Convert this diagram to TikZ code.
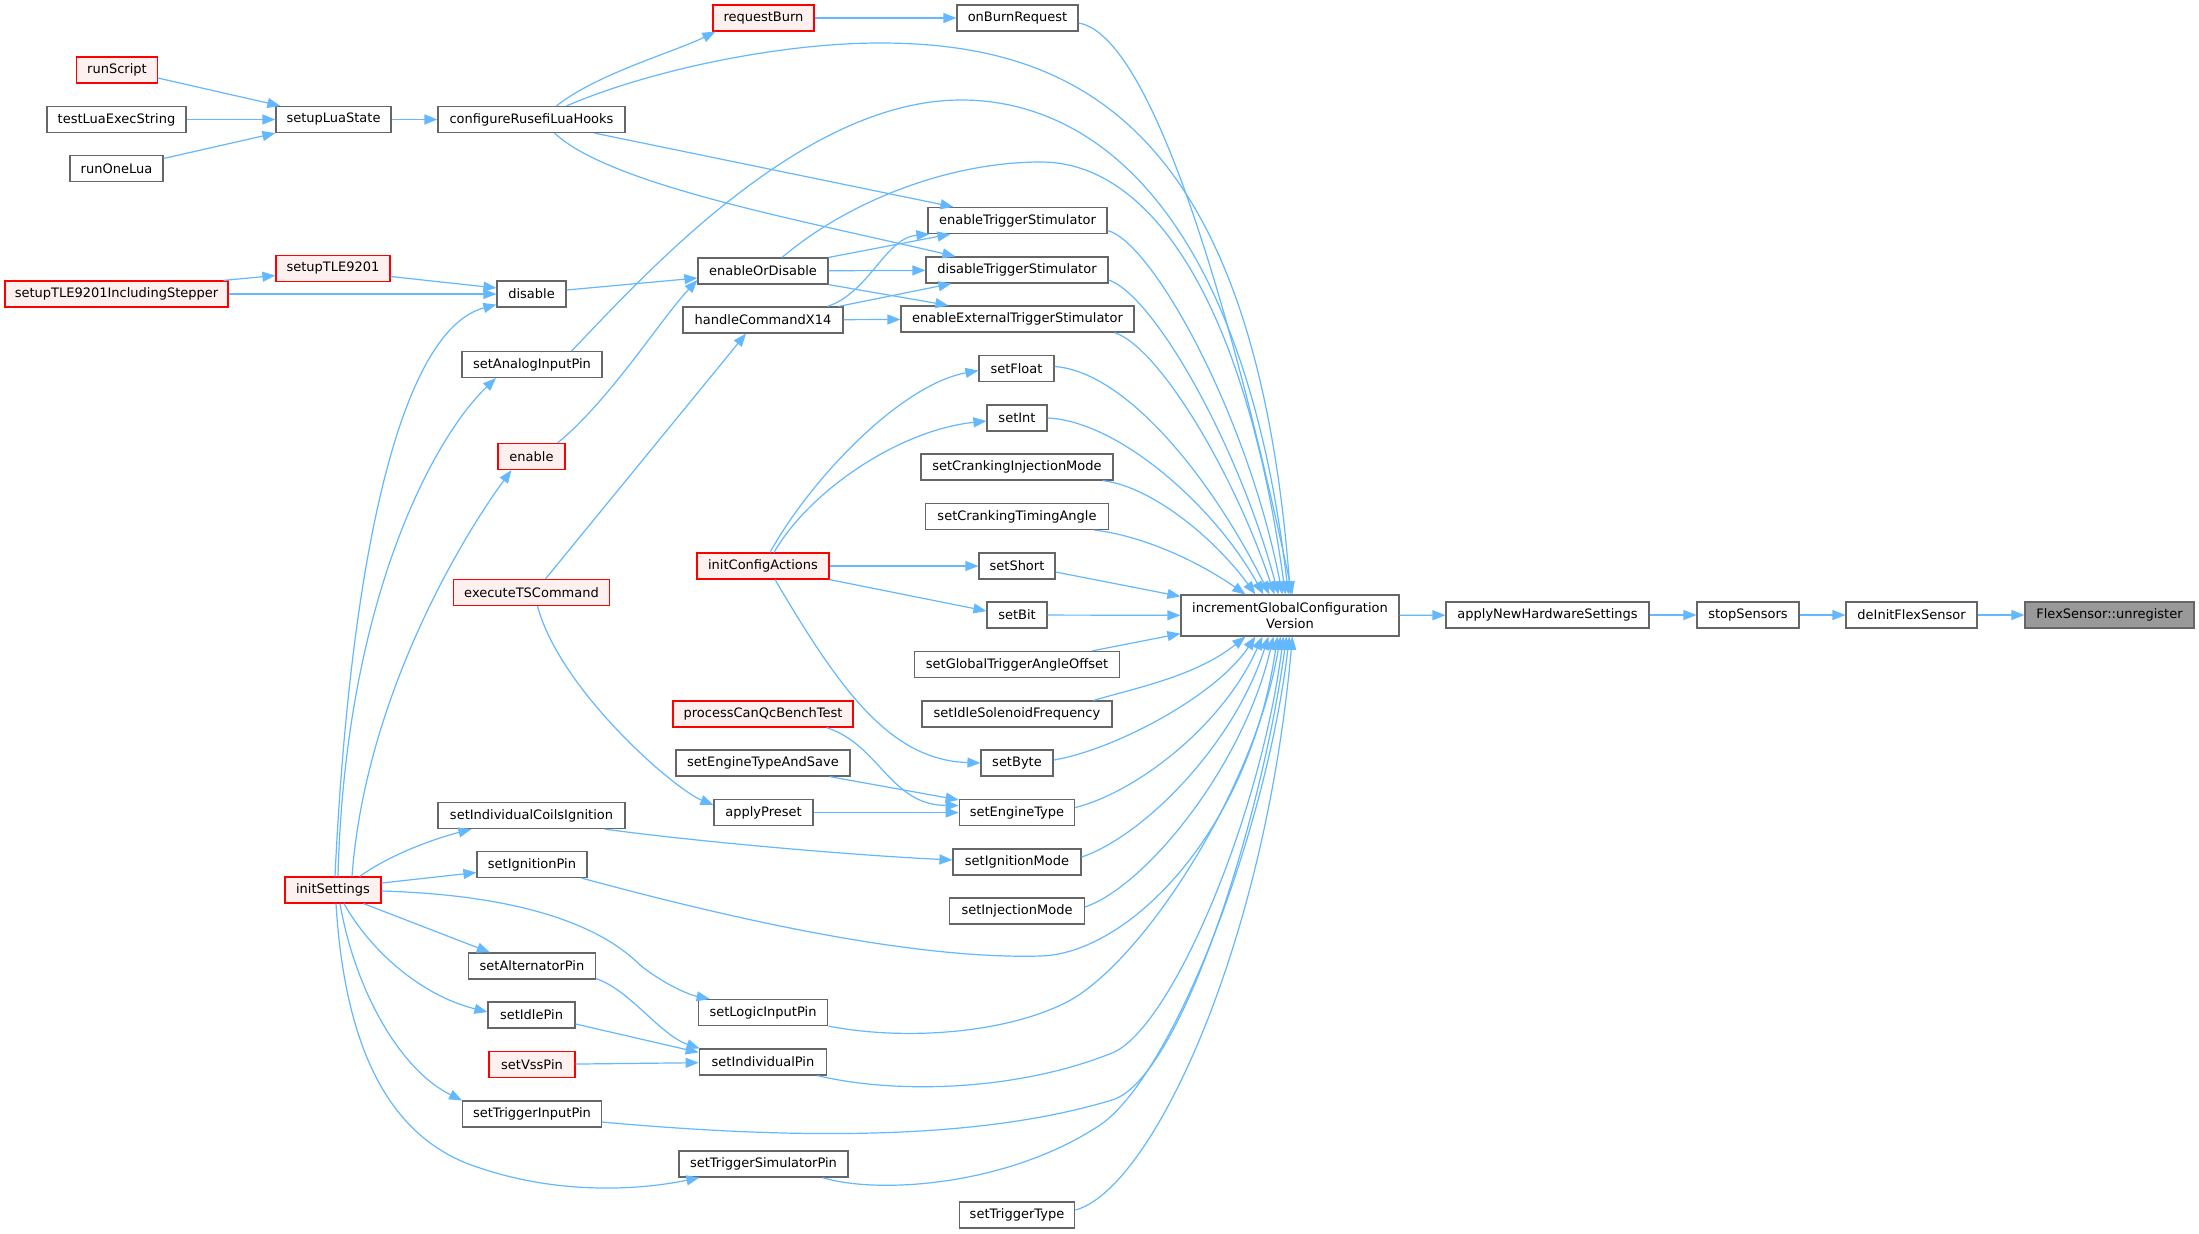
\documentclass[tikz,border=0pt]{standalone}
\usepackage{fontspec}
\setmainfont{DejaVu Sans}
\usetikzlibrary{arrows.meta,calc}
\definecolor{edgeblue}{HTML}{63B8FF}
\definecolor{bord}{HTML}{666666}
\definecolor{redfill}{HTML}{FFF0F0}
\definecolor{rootfill}{HTML}{999999}
\tikzset{
  nd/.style={draw=bord, fill=white, line width=0.6pt, minimum height=13pt, inner sep=0pt,
    font=\fontsize{6.5pt}{7.8pt}\selectfont, anchor=center},
  rd/.style={nd, draw=red, fill=redfill},
  rt/.style={nd, fill=rootfill},
  bw/.style={minimum width=#1*0.5pt},
  edg/.style={draw=edgeblue, line width=0.6pt, -{Triangle[length=6.5pt,width=5pt]}}
}
\begin{document}
\begin{tikzpicture}[x=0.5pt,y=-0.5pt]
\fill[white] (0,0) rectangle (2199,1233);
\useasboundingbox (0,0) rectangle (2199,1233);
% nodes
\node[rt,bw=169] (unreg) at (2109.5,615) {FlexSensor::unregister};
\node[nd,bw=131] (deinit) at (1911.5,615) {deInitFlexSensor};
\node[nd,bw=102] (stop) at (1748,615) {stopSensors};
\node[nd,bw=203] (apply) at (1547.5,615) {applyNewHardwareSettings};
\node[nd,bw=218,minimum height=20.5pt,align=center] (inc) at (1290,615.5) {incrementGlobalConfiguration\\Version};
\node[nd,bw=121] (onburn) at (1017.5,18) {onBurnRequest};
\node[rd,bw=101] (reqburn) at (763.5,18) {requestBurn};
\node[rd,bw=80.5] (runscript) at (117,70) {runScript};
\node[nd,bw=139] (testlua) at (116.5,119.5) {testLuaExecString};
\node[nd,bw=93] (runone) at (116.5,168.5) {runOneLua};
\node[nd,bw=115] (setuplua) at (333.5,119.5) {setupLuaState};
\node[nd,bw=187] (configure) at (531.5,119.5) {configureRusefiLuaHooks};
\node[rd,bw=223] (tlestep) at (116.5,294) {setupTLE9201IncludingStepper};
\node[rd,bw=114] (tle) at (333,268.5) {setupTLE9201};
\node[nd,bw=69] (disable) at (531.5,294) {disable};
\node[nd,bw=140] (analog) at (532,364.5) {setAnalogInputPin};
\node[rd,bw=67] (enable) at (531.5,456.5) {enable};
\node[rd,bw=156] (exects) at (531.5,592.5) {executeTSCommand};
\node[rd,bw=96] (initset) at (333,890) {initSettings};
\node[nd,bw=187] (coils) at (531.5,815.5) {setIndividualCoilsIgnition};
\node[nd,bw=110] (ignpin) at (532,864.5) {setIgnitionPin};
\node[nd,bw=127] (altpin) at (532,966) {setAlternatorPin};
\node[nd,bw=87] (idlepin) at (531.5,1015) {setIdlePin};
\node[rd,bw=86] (vsspin) at (532,1064.5) {setVssPin};
\node[nd,bw=138.5] (trigin) at (532,1114) {setTriggerInputPin};
\node[nd,bw=130] (enordis) at (763,271) {enableOrDisable};
\node[nd,bw=160] (hcx14) at (763,320) {handleCommandX14};
\node[rd,bw=132] (initcfg) at (763,566) {initConfigActions};
\node[rd,bw=180] (canqc) at (763,714) {processCanQcBenchTest};
\node[nd,bw=174] (engsave) at (763,763) {setEngineTypeAndSave};
\node[nd,bw=99] (preset) at (763.5,812.5) {applyPreset};
\node[nd,bw=129.5] (logicin) at (763,1012.5) {setLogicInputPin};
\node[nd,bw=127.5] (indpin) at (763,1062) {setIndividualPin};
\node[nd,bw=169] (trigsim) at (763.5,1164) {setTriggerSimulatorPin};
\node[nd,bw=179] (entrig) at (1017.5,220.5) {enableTriggerStimulator};
\node[nd,bw=182] (distrig) at (1017,270) {disableTriggerStimulator};
\node[nd,bw=233] (extrig) at (1017.5,319) {enableExternalTriggerStimulator};
\node[nd,bw=75] (setfloat) at (1016.5,368.5) {setFloat};
\node[nd,bw=60] (setint) at (1017,418) {setInt};
\node[nd,bw=192] (crinj) at (1017,467) {setCrankingInjectionMode};
\node[nd,bw=183.5] (crtim) at (1017,516.5) {setCrankingTimingAngle};
\node[nd,bw=76] (setshort) at (1017,566) {setShort};
\node[nd,bw=60] (setbit) at (1017,615) {setBit};
\node[nd,bw=204.5] (gtao) at (1017,664.5) {setGlobalTriggerAngleOffset};
\node[nd,bw=190] (idlesol) at (1017,714) {setIdleSolenoidFrequency};
\node[nd,bw=72] (setbyte) at (1017,763) {setByte};
\node[nd,bw=115.5] (engtype) at (1017,812.5) {setEngineType};
\node[nd,bw=128] (ignmode) at (1017,862) {setIgnitionMode};
\node[nd,bw=134.5] (injmode) at (1017,911) {setInjectionMode};
\node[nd,bw=115.5] (trigtype) at (1017,1215) {setTriggerType};
% chain
\draw[edg] (deinit) -- (unreg);
\draw[edg] (stop) -- (deinit);
\draw[edg] (apply) -- (stop);
\draw[edg] (inc) -- (apply);
% top area
\draw[edg] (reqburn) -- (onburn);
\draw[edg] ($(onburn.east)+(0,5)$) .. controls +(72,12) and +(-63,-295) .. ($(inc.north west)+(112,0)$);
\draw[edg] ($(configure.north)+(25,0)$) .. controls +(40,-32) and +(-40,20) .. ($(reqburn.south west)+(3,0)$);
\draw[edg] ($(configure.north)+(35,0)$) .. controls (650,70) and (780,43) .. (880,43) .. controls (1080,43) and (1255,130) .. ($(inc.north west)+(110,0)$);
\draw[edg] ($(configure.south)+(63,0)$) -- ($(entrig.north west)+(26,0)$);
\draw[edg] ($(configure.south)+(23,0)$) .. controls (610,185) and (800,220) .. ($(distrig.north west)+(30,0)$);
\draw[edg] (setuplua) -- (configure);
\draw[edg] ($(runscript.east)+(0,8)$) -- ($(setuplua.north west)+(5,0)$);
\draw[edg] (testlua) -- (setuplua);
\draw[edg] ($(runone.east)+(0,-10)$) -- (setuplua.south west);
\draw[edg] ($(tlestep.north east)+(-5,0)$) -- ($(tle.west)+(0,7)$);
\draw[edg] (tlestep) -- (disable);
\draw[edg] ($(tle.east)+(0,8)$) -- ($(disable.west)+(0,-6)$);
\draw[edg] ($(disable.east)+(0,-4)$) -- ($(enordis.west)+(0,7)$);
\draw[edg] ($(initset.north)+(2,0)$) .. controls (350,560) and (400,330) .. ($(disable.south west)+(0,-3)$);
\draw[edg] ($(enable.north east)+(-8,0)$) .. controls (610,400) and (660,320) .. ($(enordis.west)+(0,9)$);
\draw[edg] ($(initset.north)+(19,0)$) .. controls (365,700) and (460,540) .. ($(enable.south)+(-20,0)$);
\draw[edg] ($(initset.north)+(5,0)$) .. controls (345,600) and (434,437) .. ($(analog.south)+(-36,0)$);
\draw[edg] ($(analog.north east)+(-31,0)$) .. controls (640,280) and (800,100) .. (961,100) .. controls (1100,100) and (1245,220) .. ($(inc.north west)+(108,0)$);
\draw[edg] (enordis.north east) -- ($(entrig.south west)+(23,0)$);
\draw[edg] (enordis) -- (distrig);
\draw[edg] (enordis.south east) -- ($(extrig.north west)+(48,0)$);
\draw[edg] ($(enordis.north)+(19,0)$) .. controls (850,200) and (950,162) .. (1041,162) .. controls (1150,162) and (1245,300) .. ($(inc.north west)+(105,0)$);
\draw[edg] ($(hcx14.north east)+(-16,0)$) .. controls (870,292) and (885,238) .. ($(entrig.south west)+(2,0)$);
\draw[edg] ($(hcx14.north east)+(-5,0)$) -- ($(distrig.south west)+(26,0)$);
\draw[edg] (hcx14) -- (extrig);
\draw[edg] ($(exects.north)+(14,0)$) -- ($(hcx14.south)+(-17,0)$);
\draw[edg] ($(exects.south)+(6,0)$) .. controls (560,690) and (674,789) .. ($(preset.north west)+(0,6)$);
% right column into inc (top)
\draw[edg] ($(entrig.east)+(0,10)$) .. controls +(45,12) and +(-35,-180) .. ($(inc.north west)+(102,0)$);
\draw[edg] ($(distrig.east)+(0,10)$) .. controls +(45,15) and +(-40,-150) .. ($(inc.north west)+(98,0)$);
\draw[edg] ($(extrig.south east)+(-20,0)$) .. controls +(45,15) and +(-40,-120) .. ($(inc.north west)+(94,0)$);
\draw[edg] ($(setfloat.east)+(0,-2)$) .. controls +(70,5) and +(-60,-120) .. ($(inc.north west)+(89,0)$);
\draw[edg] (setint.east) .. controls +(70,3) and +(-50,-90) .. ($(inc.north west)+(83,0)$);
\draw[edg] ($(crinj.south east)+(-11,0)$) .. controls +(50,6) and +(-40,-55) .. ($(inc.north west)+(75,0)$);
\draw[edg] ($(crtim.south east)+(-15,0)$) .. controls +(45,5) and +(-50,-35) .. ($(inc.north west)+(65,0)$);
\draw[edg] ($(setshort.east)+(0,6)$) -- ($(inc.north west)+(0,2)$);
\draw[edg] (setbit) -- (inc);
\draw[edg] ($(gtao.north east)+(-28,0)$) -- ($(inc.south west)+(0,-3)$);
% into inc (bottom)
\draw[edg] ($(idlesol.north east)+(-19,0)$) .. controls +(40,-12) and +(-50,40) .. ($(inc.south west)+(65,0)$);
\draw[edg] ($(setbyte.east)+(0,-3)$) .. controls +(60,-10) and +(-40,60) .. ($(inc.south west)+(75,0)$);
\draw[edg] ($(engtype.east)+(0,-5)$) .. controls +(60,-15) and +(-40,90) .. ($(inc.south west)+(82,0)$);
\draw[edg] ($(ignmode.east)+(0,-5)$) .. controls +(60,-20) and +(-35,110) .. ($(inc.south west)+(88,0)$);
\draw[edg] ($(injmode.east)+(0,-4)$) .. controls +(60,-20) and +(-30,130) .. ($(inc.south west)+(93,0)$);
\draw[edg] ($(ignpin.south east)+(-6,0)$) .. controls (700,910) and (900,960) .. (1041,956) .. controls (1130,953) and (1250,830) .. ($(inc.south west)+(97,0)$);
\draw[edg] (logicin.south east) .. controls (900,1040) and (1000,1035) .. (1065,1003) .. controls (1140,966) and (1255,790) .. ($(inc.south west)+(100,0)$);
\draw[edg] ($(indpin.south east)+(-10,0)$) .. controls (900,1095) and (1020,1090) .. (1112,1053) .. controls (1170,1030) and (1260,820) .. ($(inc.south west)+(103,0)$);
\draw[edg] ($(trigin.east)+(0,8)$) .. controls (800,1140) and (980,1140) .. (1112,1100) .. controls (1180,1080) and (1262,820) .. ($(inc.south west)+(106,0)$);
\draw[edg] ($(trigsim.south east)+(-26,0)$) .. controls (880,1195) and (1010,1185) .. (1100,1125) .. controls (1170,1078) and (1265,840) .. ($(inc.south west)+(109,0)$);
\draw[edg] ($(trigtype.east)+(0,-5)$) .. controls +(75,-20) and +(-28,314) .. ($(inc.south west)+(112,0)$);
% initConfigActions
\draw[edg] ($(initcfg.north)+(7,0)$) .. controls (810,480) and (900,385) .. ($(setfloat.west)+(0,2)$);
\draw[edg] ($(initcfg.north)+(11,0)$) .. controls (810,490) and (900,430) .. ($(setint.west)+(0,3)$);
\draw[edg] (initcfg) -- (setshort);
\draw[edg] (initcfg.south east) -- ($(setbit.west)+(0,-4)$);
\draw[edg] ($(initcfg.south)+(12,0)$) .. controls (840,690) and (890,760) .. (setbyte.west);
% setEngineType
\draw[edg] ($(canqc.south east)+(-27,0)$) .. controls (880,745) and (890,805) .. ($(engtype.west)+(0,-7)$);
\draw[edg] ($(engsave.south east)+(-21,0)$) -- ($(engtype.north west)+(0,1)$);
\draw[edg] (preset) -- (engtype);
\draw[edg] ($(coils.south east)+(-21,0)$) .. controls (700,842) and (850,855) .. ($(ignmode.west)+(0,-2)$);
% initSettings
\draw[edg] ($(initset.north east)+(-22,0)$) .. controls (390,855) and (430,840) .. ($(coils.south west)+(34,0)$);
\draw[edg] ($(initset.east)+(0,-7)$) -- ($(ignpin.west)+(0,8)$);
\draw[edg] ($(initset.east)+(0,1)$) .. controls (520,895) and (600,925) .. (640,965) .. controls (665,985) and (690,995) .. ($(logicin.north west)+(12,0)$);
\draw[edg] ($(initset.south east)+(-18,0)$) -- ($(altpin.north west)+(22,0)$);
\draw[edg] ($(initset.south)+(11,0)$) .. controls (370,950) and (420,995) .. ($(idlepin.west)+(0,-3)$);
\draw[edg] ($(initset.south)+(7,0)$) .. controls (355,990) and (400,1070) .. (trigin.north west);
\draw[edg] ($(initset.south)+(3,0)$) .. controls (345,1050) and (390,1140) .. (480,1168) .. controls (560,1195) and (640,1190) .. ($(trigsim.south west)+(21,0)$);
% setIndividualPin
\draw[edg] ($(altpin.south east)+(0,-1)$) .. controls (630,990) and (660,1035) .. ($(indpin.north west)+(1,0)$);
\draw[edg] ($(idlepin.east)+(0,9)$) -- ($(indpin.north west)+(0,4)$);
\draw[edg] (vsspin) -- (indpin);
\end{tikzpicture}
\end{document}
